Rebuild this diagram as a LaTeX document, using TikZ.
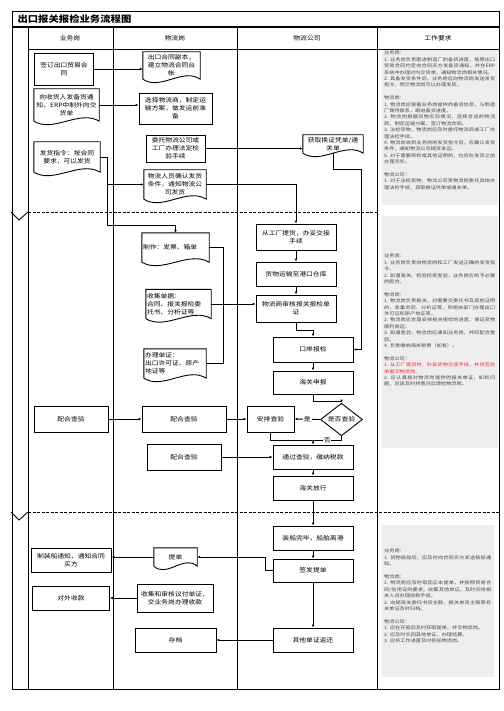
\documentclass[tikz,border=0pt]{standalone}
\usepackage{fontspec}
\usepackage{xcolor}
\usetikzlibrary{calc,shapes.geometric,arrows.meta}
\setmainfont{Noto Sans CJK SC}[FakeStretch=1.15]
\XeTeXlinebreaklocale "zh"
\XeTeXlinebreakskip=0pt plus 1pt
\definecolor{reqgrey}{RGB}{238,238,238}
\definecolor{reqred}{RGB}{232,45,70}
\definecolor{reqink}{RGB}{70,70,70}
\newcommand{\boxfont}{\fontsize{5.9}{8.2}\selectfont}
\newcommand{\reqfont}{\fontsize{4.5}{6.4}\selectfont}
\newcommand{\docwave}[1]{%
  \draw[line width=0.9pt] (#1.south west) -- (#1.north west) -- (#1.north east) -- (#1.south east)
    .. controls ($(#1.south east)!0.3!(#1.south west)+(0,-12)$) and ($(#1.south east)!0.7!(#1.south west)+(0,12)$) .. (#1.south west);}
\tikzset{
  >={Latex[length=3pt,width=2.6pt]},
  flowbox/.style={draw, line width=0.9pt, align=center, inner sep=1pt, font=\boxfont},
  docbox/.style={align=center, inner sep=1pt, font=\boxfont},
  docleft/.style={align=left, inner sep=1pt, font=\boxfont},
  flowlink/.style={->, line width=0.9pt},
  reqtext/.style={anchor=north west, align=justify, inner sep=0pt, text=reqink, font=\reqfont},
}

\begin{document}
\begin{tikzpicture}[x=1pt, y=-1pt]
    \useasboundingbox (0,0) rectangle (503,711);

    % requirement panels
    \fill[reqgrey] (382,50) rectangle (498,205);
    \fill[reqgrey] (382,216) rectangle (498,448);
    \fill[reqgrey] (382,525) rectangle (494,677);

    % frame, title and lanes
    \draw[line width=0.8pt] (12,11) rectangle (499,689);
    \draw[line width=1.8pt] (12,27) -- (499,27);
    \draw[line width=0.8pt] (28,49) -- (499,49);
    \foreach \x in {28,113,237,377}
        \draw[line width=0.8pt] (\x,27) -- (\x,689);
    \node[anchor=west, font=\fontsize{9}{11}\selectfont\bfseries] (title) at (14,19) {出口报关报检业务流程图};
    \node[font=\boxfont] (hyewu) at (70,38) {业务岗};
    \node[font=\boxfont] (hwuliu) at (175,38) {物流岗};
    \node[font=\boxfont] (hgongsi) at (307,38) {物流公司};
    \node[font=\boxfont] (hyaoqiu) at (438,38) {工作要求};

    % stage separators
    \draw[line width=0.9pt, dash pattern=on 3pt off 1.5pt] (28,212) -- (377,212);
    \draw[line width=0.9pt, dash pattern=on 3pt off 1.5pt] (28,512) -- (499,512);
    \draw[line width=0.9pt] (11,212) -- (19,220) -- (28,212);
    \draw[line width=0.9pt] (11,512) -- (19,520) -- (28,512);

    % business lane
    \node[flowbox, minimum width=59, minimum height=32] (qianding) at (64,69) {签订出口贸易合\\同};
    \node[docbox, minimum width=65, minimum height=32] (tongzhi) at (66.5,105) {向收货人发备货通\\知，ERP中制外向交\\货单};
    \node[docbox, minimum width=66, minimum height=30] (zhiling) at (67,157) {发货指令：按合同\\要求，可以发货};
    \node[flowbox, minimum width=74, minimum height=26] (ywpeihe) at (71,419) {配合查验};
    \node[flowbox, minimum width=80, minimum height=24] (zhuangchuan) at (71,560) {制装船通知，通知合同\\买方};
    \node[flowbox, minimum width=77, minimum height=24] (shoukuan) at (71,598) {对外收款};

    % logistics lane
    \node[docbox, minimum width=57, minimum height=27] (fuben) at (171.5,65.5) {出口合同副本，\\建立物流合同台\\帐};
    \node[flowbox, minimum width=73, minimum height=31] (xuanze) at (175.5,108.5) {选择物流商，制定运\\输方案，做发运前准\\备};
    \node[flowbox, minimum width=59, minimum height=27] (weituo) at (175.5,148.5) {委托物流公司或\\工厂办理法定检\\验手续};
    \node[docbox, minimum width=62, minimum height=29] (queren) at (175,184.5) {物流人员确认发货\\条件，通知物流公\\司发货};
    \node[docleft, text width=65, minimum height=29] (zhizuo) at (175.5,247.5) {制作：发票、箱单};
    \node[docleft, text width=63, minimum height=29] (shouji) at (178.5,304) {收集单据：\\合同、报关报检委\\托书、分析证等};
    \node[docleft, text width=60, minimum height=29] (banli) at (175,363.5) {办理单证：\\出口许可证、原产\\地证等};
    \node[flowbox, minimum width=84, minimum height=26] (wlpeihe) at (184,419) {配合查验};
    \node[flowbox, minimum width=74, minimum height=26] (wlpeihe2) at (184,457) {配合查验};
    \node[docbox, minimum width=43, minimum height=18] (tidan) at (175.5,557) {提单};
    \node[flowbox, minimum width=76, minimum height=28] (yifu) at (175,598) {收集和审核议付单证，\\交业务岗办理收款};
    \node[flowbox, minimum width=81, minimum height=24] (cundang) at (175.5,640) {存档};

    % company lane
    \node[docbox, minimum width=60, minimum height=18] (huoqu) at (333,144) {获取换证凭单/通\\关单};
    \node[flowbox, minimum width=80, minimum height=26] (tihuo) at (296,237) {从工厂提货，办妥交接\\手续};
    \node[flowbox, minimum width=80, minimum height=24] (yunshu) at (296,274) {货物运输至港口仓库};
    \node[flowbox, minimum width=80, minimum height=27] (shenhe) at (296,308.5) {物流商审核报关报检单\\证};
    \node[flowbox, minimum width=80, minimum height=25] (koubaojian) at (313,349.5) {口岸报检};
    \node[flowbox, minimum width=80, minimum height=23] (shenbao) at (313,382.5) {海关申报};
    \node[flowbox, minimum width=47, minimum height=26] (anpai) at (270.5,419) {安排查验};
    \node[draw, diamond, line width=0.9pt, minimum width=42, minimum height=25, inner sep=0pt, font=\boxfont] (chayan) at (341.5,419.5) {是否查验};
    \node[flowbox, minimum width=80, minimum height=24] (tongguo) at (313,457) {通过查验，缴纳税款};
    \node[flowbox, minimum width=80, minimum height=24] (fangxing) at (313,488) {海关放行};
    \node[flowbox, minimum width=80, minimum height=24] (ligang) at (313,538) {装船完毕，船舶离港};
    \node[flowbox, minimum width=80, minimum height=23] (qianfa) at (313,570.5) {签发提单};
    \node[flowbox, minimum width=80, minimum height=24] (fanhuan) at (313,640) {其他单证返还};

    % document outlines
    \docwave{tongzhi}
    \docwave{zhiling}
    \docwave{fuben}
    \docwave{queren}
    \docwave{zhizuo}
    \docwave{shouji}
    \docwave{banli}
    \docwave{tidan}
    \docwave{huoqu}

    % bend points
    \coordinate (zlbus) at (107,225);
    \coordinate (djbus) at (223,304);
    \coordinate (hqturn) at (361,169);
    \coordinate (cyjoin) at (313,440);

    % connectors, first stage
    \draw[flowlink] (qianding.east) -- (qianding.east -| fuben.west);
    \draw[flowlink] (tongzhi.east) -- (tongzhi.east -| xuanze.west);
    \draw[flowlink] (weituo.east) -- (weituo.east -| huoqu.west);
    \draw[flowlink] (zhiling.east) -| (zlbus) -| (zhizuo.north);
    \draw[flowlink] (zhiling.east -| zlbus) |- (queren.west);
    \draw[flowlink] (queren.east) -| (tihuo.north);
    \draw[flowlink] (huoqu.south) |- (hqturn) |- (koubaojian.east);

    % connectors, second stage
    \draw[line width=0.9pt] (zhizuo.east) -| (djbus);
    \draw[line width=0.9pt] (banli.east) -| (djbus);
    \draw[line width=0.9pt] (shouji.east) -- (djbus);
    \draw[flowlink] (djbus) -- (djbus -| shenhe.west);
    \draw[flowlink] (tihuo) -- (yunshu);
    \draw[flowlink] (yunshu) -- (shenhe);
    \draw[flowlink] (shenhe.south) -- ++(0,8) -| (koubaojian.north);
    \draw[flowlink] (koubaojian) -- (shenbao);
    \draw[flowlink] (shenbao.south) -- ++(0,7) -| (chayan.north);
    \draw[flowlink] (chayan.west) -- (anpai.east) node[midway, fill=white, inner sep=1pt, font=\boxfont] (shi) {是};
    \draw[line width=0.9pt] (anpai.south) |- (cyjoin);
    \draw[line width=0.9pt] (chayan.south) |- (cyjoin) node[pos=0.75, fill=white, inner sep=0.5pt, font=\boxfont] (fou) {否};
    \draw[flowlink] (cyjoin) -- (tongguo.north);
    \draw[flowlink] (ywpeihe) -- (wlpeihe);
    \draw[flowlink] (wlpeihe) -- (anpai);
    \draw[flowlink] (wlpeihe2) -- (wlpeihe2 -| tongguo.west);
    \draw[flowlink] (tongguo) -- (fangxing);

    % connectors, third stage
    \draw[flowlink] (fangxing) -- (ligang);
    \draw[flowlink] (ligang) -- (qianfa);
    \draw[flowlink] (qianfa.west) -- ++(-7,0) |- (tidan.east);
    \draw[flowlink] (tidan.west) -- (tidan.west -| zhuangchuan.east);
    \draw[flowlink] (yifu.west) -- (yifu.west -| shoukuan.east);
    \draw[flowlink] (qianfa) -- (fanhuan);
    \draw[flowlink] (fanhuan) -- (cundang);

    % work requirements
    \node[reqtext, text width=111] (req1) at (384,51) {业务岗：\\
        1. 业务岗负责跟进制造厂的备货进度，按照出口贸易合同约定向合同买方发备货通知，并在ERP系统中办理对内交货单，通知物流岗相关情况。\\
        2. 具备发货条件后，业务岗应向物流岗发送发货指令，明示物流岗可以办理发货。\\[6.4pt]
        物流岗：\\
        1. 物流岗应根据业务岗提供的备货信息，与制造厂保持联系，跟进备货进度。\\
        2. 物流岗根据货物实际情况，选择合适的物流商，制定运输方案，签订物流合同。\\
        3. 法检货物，物流岗应及时委托物流商或工厂办理法检手续。\\
        4. 物流岗收到业务岗的发货指令后，应确认发货条件，通知物流公司提货发运。\\
        5. 对于需要商检或其他证明的，也应在发货之前办理完毕。\\[6.4pt]
        物流公司：\\
        1. 对于法检货物，物流公司受物流岗委托具体办理法检手续，获取换证凭单或通关单。};
    \node[reqtext, text width=111] (req2) at (384,254) {业务岗：\\
        1. 业务岗负责向物流岗和工厂发送正确的发货指令。\\
        2. 如遇海关、检验检疫查验，业务岗应给予必要的配合。\\[6.4pt]
        物流岗：\\
        1. 物流岗负责报关，对需要交委托书及其他证明的，收集合同、分析证等，到相关部门办理出口许可证和原产地证等。\\
        2. 物流岗应合理安排报关报检的进度，保证货物顺利装运。\\
        3. 如遇查验，物流岗应通知业务岗，共同配合查验。\\
        4. 负责缴纳海关税费（如有）。\\[6.4pt]
        物流公司：\\
        {\color{reqred}1. 从工厂提货时，办妥货物交接手续，并将签收单据交物流岗。}\\
        2. 应认真核对物流岗提供的报关单证，如有问题，应该及时将情况反馈给物流岗。};
    \node[reqtext, text width=107] (req3) at (384,549) {业务岗：\\
        1. 货物装船后，应及时向合同买方发送装船通知。\\[6.4pt]
        物流岗：\\
        1. 物流岗应及时取回正本提单，并按照贸易合同/信用证的要求，收集其他单证，及时交给相关人员办理收款手续。\\
        2. 向随海关委托书货主联，报关单货主联等有关单证及时归档。\\[6.4pt]
        物流公司：\\
        1. 应在开船后及时获取提单，并交物流岗。\\
        2. 应及时交回其他单证，办理结算。\\
        3. 应将工作进度及时告知物流岗。};
\end{tikzpicture}
\end{document}
